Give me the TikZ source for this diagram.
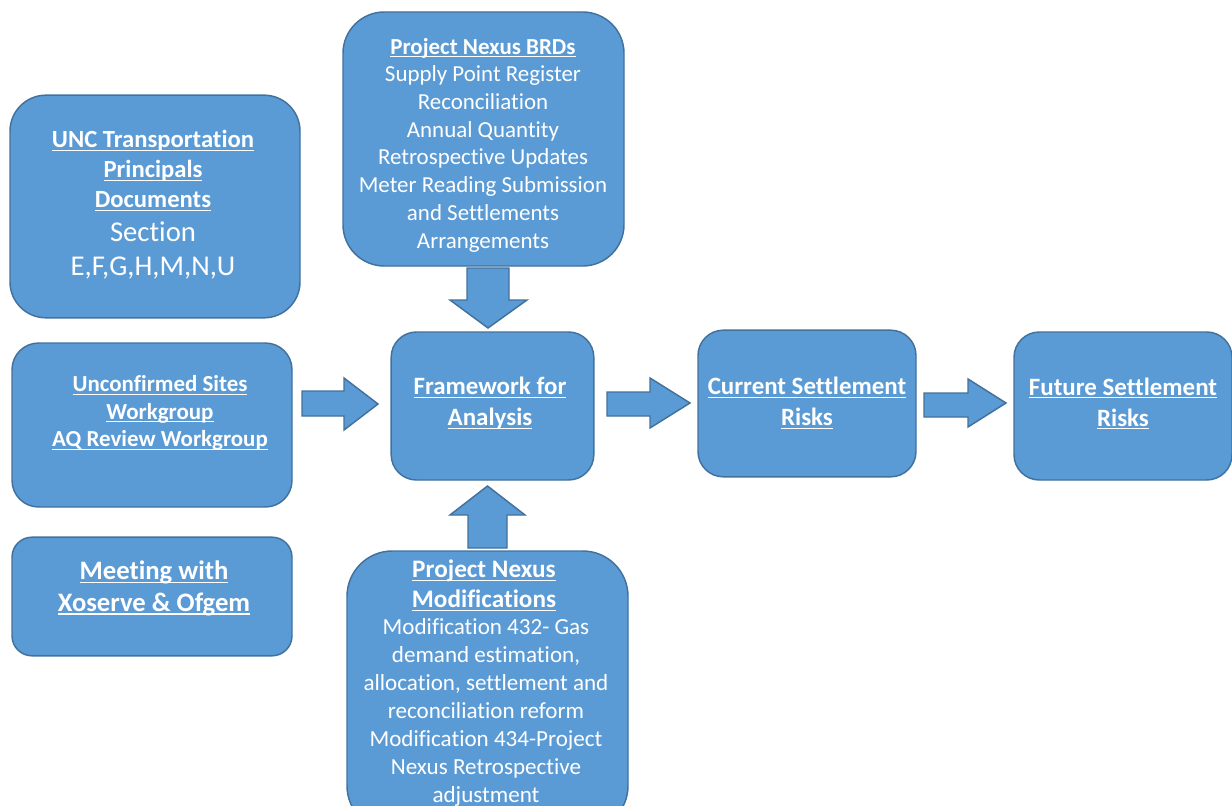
\documentclass[tikz,border=0pt]{standalone}
\usepackage{fontspec}
\setmainfont{Carlito}[Ligatures=NoCommon]
\definecolor{boxfill}{HTML}{5B9BD5}
\definecolor{boxline}{HTML}{41719C}
\tikzset{
  box/.style={draw=boxline, fill=boxfill, line width=1.1pt, rectangle, inner sep=0pt},
  txt/.style={text=white, align=center, inner sep=0pt},
  barrow/.style={draw=boxline, fill=boxfill, line width=1.1pt, line join=miter}
}
\newsavebox{\ulbox}
\newcommand{\ul}[1]{\sbox{\ulbox}{\textbf{#1}}\rlap{\rule[-0.14em]{\wd\ulbox}{0.05em}}\usebox{\ulbox}}
\begin{document}
\begin{tikzpicture}[x=0.75pt,y=-0.75pt]
\useasboundingbox (0,0) rectangle (1232,806);
\begin{scope}
\clip (0,0) rectangle (1232,806);
% boxes
\node[box, rounded corners=27pt, minimum width=217.5pt, minimum height=167pt] (unc) at (155,206.5) {};
\node[box, rounded corners=20pt, minimum width=210pt, minimum height=123pt] (unconf) at (152,425) {};
\node[box, rounded corners=15pt, minimum width=210pt, minimum height=89pt] (meet) at (152,596.5) {};
\node[box, rounded corners=31pt, minimum width=210.75pt, minimum height=190.5pt] (brd) at (483.5,139) {};
\node[box, rounded corners=19pt, minimum width=152pt, minimum height=111pt] (frame) at (492.5,406) {};
\node[box, rounded corners=19pt, minimum width=163.5pt, minimum height=110pt] (cur) at (807,403.5) {};
\node[box, rounded corners=19pt, minimum width=163.5pt, minimum height=111pt] (fut) at (1123,406) {};
\node[box, rounded corners=34pt, minimum width=210.75pt, minimum height=210pt] (mod) at (487.5,691) {};
% texts
\node[txt, font=\fontsize{18.5}{22.5}\selectfont] (unct) at (153,171) {\ul{UNC Transportation}\\ \ul{Principals}\\ \ul{Documents}};
\node[txt, font=\fontsize{21.5}{25.5}\selectfont] (uncs) at (153,250.5) {Section\\ E,F,G,H,M,N,U};
\node[txt, font=\fontsize{17.2}{20.6}\selectfont] (unconft) at (160,413) {\ul{Unconfirmed Sites}\\ \ul{Workgroup}\\ \ul{AQ Review Workgroup}};
\node[txt, font=\fontsize{20}{24}\selectfont] (meett) at (154,588) {\ul{Meeting with}\\ \ul{Xoserve \& Ofgem}};
\node[txt, font=\fontsize{17.2}{20.8}\selectfont] (brdt) at (483,145) {\ul{Project Nexus BRDs}\\ Supply Point Register\\ Reconciliation\\ Annual Quantity\\ Retrospective Updates\\ Meter Reading Submission\\ and Settlements\\ Arrangements};
\node[txt, font=\fontsize{18.7}{23.25}\selectfont] (framet) at (490,403) {\ul{Framework for}\\ \ul{Analysis}};
\node[txt, font=\fontsize{18.7}{23.25}\selectfont] (curt) at (807,403) {\ul{Current Settlement}\\ \ul{Risks}};
\node[txt, font=\fontsize{18.7}{23.25}\selectfont] (futt) at (1123,403.5) {\ul{Future Settlement}\\ \ul{Risks}};
\node[txt, font=\fontsize{18.9}{22.5}\selectfont] (modt) at (484,585.5) {\ul{Project Nexus}\\ \ul{Modifications}};
\node[txt, font=\fontsize{17.3}{21}\selectfont] (modb) at (486,712.5) {Modification 432- Gas\\ demand estimation,\\ allocation, settlement and\\ reconciliation reform\\ Modification 434-Project\\ Nexus Retrospective\\ adjustment};
\end{scope}
% block arrows
\draw[barrow] (467,268) -- (509,268) -- (509,300) -- (527,300) -- (488,328) -- (450,300) -- (467,300) -- cycle;
\draw[barrow] (468,548) -- (507,548) -- (507,515) -- (525,515) -- (487.5,486) -- (450,515) -- (468,515) -- cycle;
\draw[barrow] (302,391) -- (344,391) -- (344,378) -- (378,404) -- (344,430) -- (344,416) -- (302,416) -- cycle;
\draw[barrow] (607,392) -- (650,392) -- (650,378) -- (690,403) -- (650,428) -- (650,416) -- (607,416) -- cycle;
\draw[barrow] (924,393) -- (968,393) -- (968,379) -- (1006,403) -- (968,427) -- (968,417) -- (924,417) -- cycle;
\end{tikzpicture}
\end{document}
